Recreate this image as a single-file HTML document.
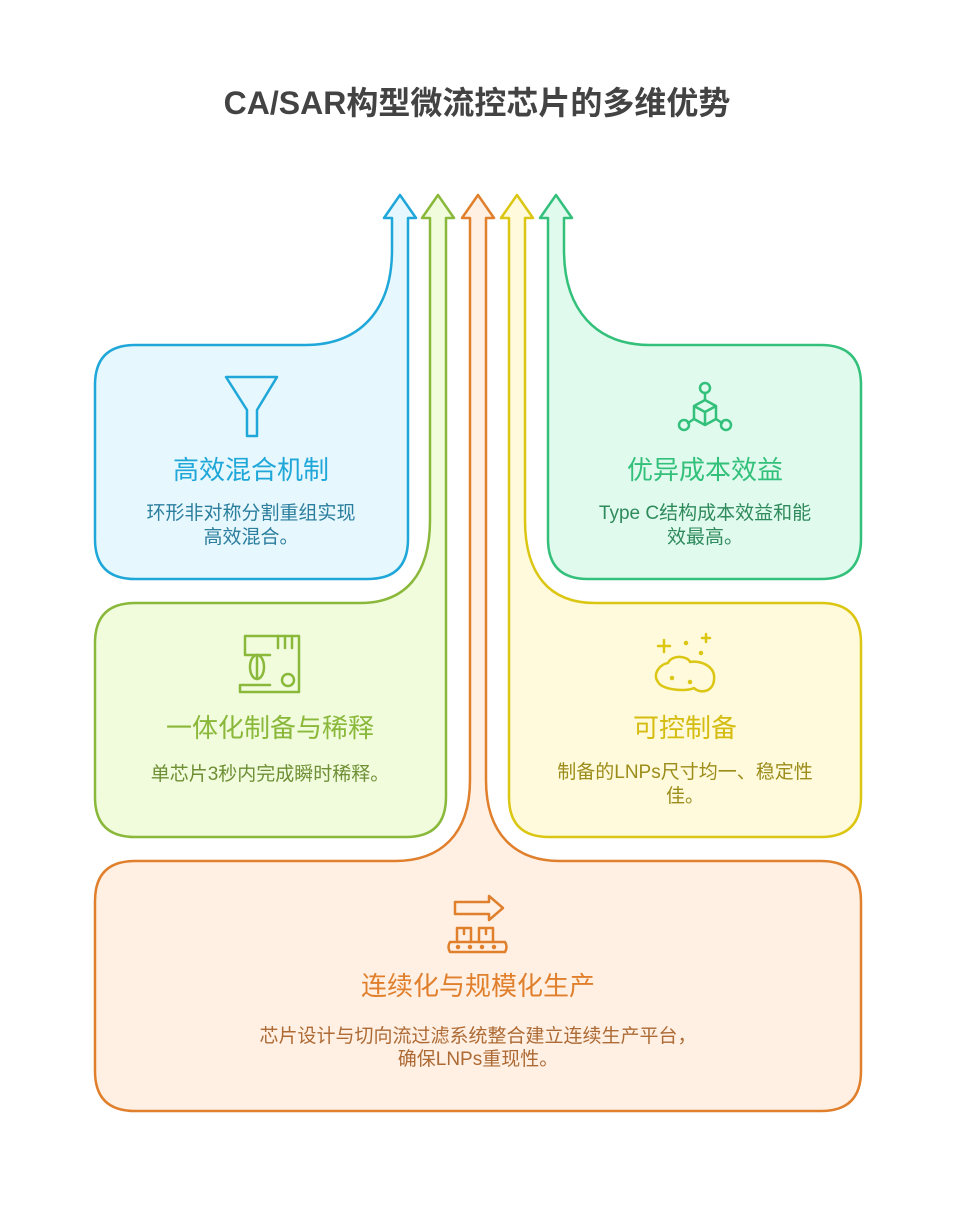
<!DOCTYPE html>
<html><head><meta charset="utf-8"><style>
html,body{margin:0;padding:0;background:#fff;}
svg{display:block;}
text{font-family:"Liberation Sans","Noto Sans CJK SC",sans-serif;}
</style></head><body>
<svg width="955" height="1229" viewBox="0 0 955 1229" xmlns="http://www.w3.org/2000/svg">
<text x="477" y="114" text-anchor="middle" font-size="32" font-weight="bold" fill="#434343">CA/SAR构型微流控芯片的多维优势</text>
<g stroke-width="2.5" stroke-linejoin="round">
<path d="M135,345 L305,345 C360,345 392,310 392,250 L392,218 L384,218 L400,195 L416,218 L408,218 L408,539 Q408,579 368,579 L135,579 Q95,579 95,539 L95,385 Q95,345 135,345 Z" fill="#e6f7fd" stroke="#1ea7d8"/>
<path d="M135,603 L360,603 C405,603 430,575 430,520 L430,218 L422,218 L438,195 L454,218 L446,218 L446,797 Q446,837 406,837 L135,837 Q95,837 95,797 L95,643 Q95,603 135,603 Z" fill="#f1fcdc" stroke="#8ab83a"/>
<path d="M135,861 L395,861 C440,861 470,835 470,780 L470,218 L462,218 L478,195 L494,218 L486,218 L486,780 C486,835 516,861 560,861 L821,861 Q861,861 861,901 L861,1071 Q861,1111 821,1111 L135,1111 Q95,1111 95,1071 L95,901 Q95,861 135,861 Z" fill="#fff0e3" stroke="#e07f2c"/>
<path d="M509,218 L501,218 L517,195 L533,218 L525,218 L525,520 C525,575 550,603 595,603 L821,603 Q861,603 861,643 L861,797 Q861,837 821,837 L549,837 Q509,837 509,797 Z" fill="#fffadb" stroke="#dcc614"/>
<path d="M548,218 L540,218 L556,195 L572,218 L564,218 L564,250 C564,310 596,345 650,345 L821,345 Q861,345 861,385 L861,539 Q861,579 821,579 L588,579 Q548,579 548,539 Z" fill="#e0fbee" stroke="#33c07a"/>
</g>
<g fill="none" stroke-width="2.5" stroke-linejoin="round" stroke-linecap="round">
<path d="M226,377 L277,377 L257,410 L257,436 L247,436 L247,410 Z" stroke="#1ea7d8"/>
<g stroke="#33c07a">
<path d="M705,400 L716,406 L716,419 L705,425 L694,419 L694,406 Z M694,406 L705,412 L716,406 M705,412 L705,425"/>
<path d="M705,400 L705,393 M694,419 L688,423 M716,419 L722,423"/>
<circle cx="705" cy="388" r="5"/><circle cx="684" cy="425" r="5"/><circle cx="726" cy="425" r="5"/>
</g>
<g stroke="#8ab83a">
<path d="M245,636 L299,636 L299,692 L240,692 L240,685 L270,685 M245,636 L245,655 M270,655 L245,655"/>
<path d="M285,636 L285,648 M292,636 L292,648 M278,636 L278,648"/>
<ellipse cx="257" cy="667" rx="7" ry="12"/><path d="M257,655 L257,679"/>
<circle cx="288" cy="680" r="6"/>
</g>
<g stroke="#dcc614">
<path d="M658,646 L670,646 M664,640 L664,652 M702,638 L710,638 M706,634 L706,642"/>
<circle cx="686" cy="643" r="1" fill="#dcc614"/><circle cx="701" cy="653" r="1" fill="#dcc614"/>
<path d="M668,663 C672,654 688,656 690,662 C700,660 716,666 714,680 C713,692 700,694 694,688 C686,692 662,690 658,682 C652,674 660,664 668,663 Z"/>
<circle cx="672" cy="678" r="1" fill="#dcc614"/><circle cx="690" cy="682" r="1" fill="#dcc614"/>
</g>
<g stroke="#e07f2c">
<path d="M455,902 L489,902 L489,896 L503,908 L489,920 L489,914 L455,914 Z"/>
<path d="M450,942 L505,942 Q508,947 505,952 L450,952 Q447,947 450,942 Z"/>
<path d="M457,942 L457,928 L471,928 L471,942 M479,942 L479,928 L493,928 L493,942 M464,928 L464,934 M486,928 L486,934"/>
<circle cx="458" cy="947" r="1" fill="#e07f2c"/><circle cx="470" cy="947" r="1" fill="#e07f2c"/><circle cx="482" cy="947" r="1" fill="#e07f2c"/><circle cx="494" cy="947" r="1" fill="#e07f2c"/>
</g>
</g>
<g text-anchor="middle">
<text x="251" y="479" font-size="26" fill="#1ea7d8">高效混合机制</text>
<text x="251" y="519" font-size="19" fill="#2b7e9e">环形非对称分割重组实现</text>
<text x="251" y="543" font-size="19" fill="#2b7e9e">高效混合。</text>
<text x="705" y="479" font-size="26" fill="#33c07a">优异成本效益</text>
<text x="705" y="519" font-size="19" fill="#2f8a5c">Type C结构成本效益和能</text>
<text x="705" y="543" font-size="19" fill="#2f8a5c">效最高。</text>
<text x="270" y="737" font-size="26" fill="#8ab83a">一体化制备与稀释</text>
<text x="270" y="780" font-size="19" fill="#6e8f35">单芯片3秒内完成瞬时稀释。</text>
<text x="685" y="737" font-size="26" fill="#d4bc10">可控制备</text>
<text x="685" y="778" font-size="19" fill="#9c8c1a">制备的LNPs尺寸均一、稳定性</text>
<text x="685" y="802" font-size="19" fill="#9c8c1a">佳。</text>
<text x="478" y="995" font-size="26" fill="#e07f2c">连续化与规模化生产</text>
<text x="478" y="1042" font-size="19" fill="#ad6a34">芯片设计与切向流过滤系统整合建立连续生产平台，</text>
<text x="478" y="1065" font-size="19" fill="#ad6a34">确保LNPs重现性。</text>
</g>
</svg>
</body></html>
